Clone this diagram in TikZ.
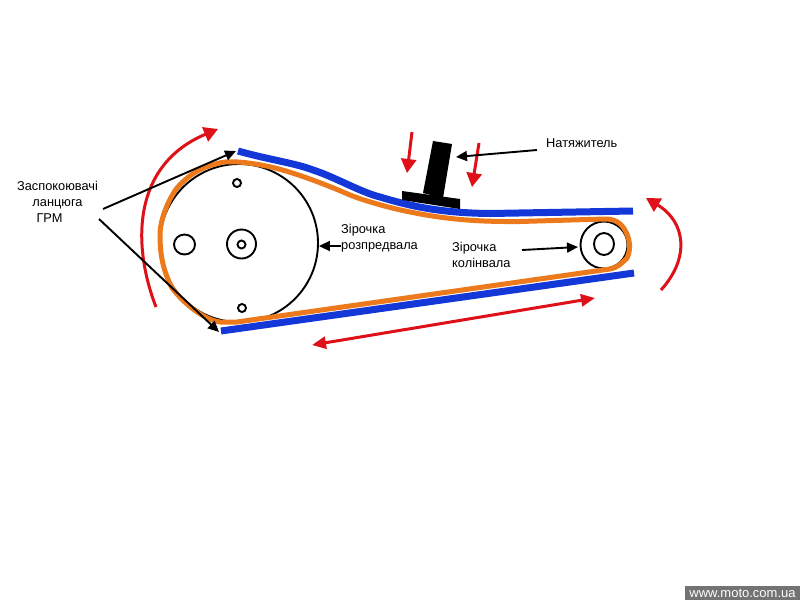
\documentclass[tikz,border=0pt]{standalone}
\usepackage{fontspec}
\setmainfont{Liberation Sans}
\usetikzlibrary{arrows.meta}
\definecolor{beltorange}{HTML}{EC7A1C}
\definecolor{guideblue}{HTML}{1438D8}
\definecolor{arrowred}{HTML}{DE1018}
\tikzset{
  blk/.style={draw=black,line width=1.9pt},
  callout/.style={draw=black,line width=1.9pt,-{Triangle[length=11pt,width=10pt]}},
  redarrow/.style={draw=arrowred,line width=3pt,-{Triangle[length=14pt,width=15pt]}},
  label/.style={font=\fontsize{12.8}{16}\selectfont,text=black,inner sep=0pt,align=left},
  guide/.style={draw=guideblue,line width=7pt},
  belt/.style={draw=beltorange,line width=5pt,line join=round}
}
\begin{document}
\begin{tikzpicture}[x=1pt,y=-1pt]
\useasboundingbox[fill=white] (0,0) rectangle (800,600);
% sprockets
\node[blk,circle,minimum size=158pt,inner sep=0pt] (cam) at (239,243) {};
\node[blk,circle,minimum size=8pt,inner sep=0pt] (h1) at (237,183) {};
\node[blk,circle,minimum size=8pt,inner sep=0pt] (h2) at (242,308) {};
\node[blk,circle,minimum size=29pt,inner sep=0pt] (hubo) at (241.5,244) {};
\node[blk,circle,minimum size=8pt,inner sep=0pt] (hubi) at (241.5,244.5) {};
\draw[blk] (184.5,244.5) ellipse (10.5 and 10);
\node[blk,circle,minimum size=47pt,inner sep=0pt] (crank) at (604,245) {};
\draw[blk] (604,244) ellipse (10 and 11);
% guides
\draw[guide] (238,151) .. controls (270,160) and (295,163) .. (313,170)
  .. controls (335,177) and (360,192) .. (380,197)
  .. controls (410,206) and (440,213) .. (490,213.5) -- (633,211);
\draw[guide] (221,331) -- (634,273);
% belt
\draw[belt] (237,322) -- (610,269) .. controls (617,268) and (622,263) .. (627,258)
  .. controls (631,250) and (630,240) .. (626,232)
  .. controls (621,222) and (614,219) .. (605,219)
  -- (520,221.5) .. controls (470,222) and (440,218) .. (410,212)
  .. controls (390,208) and (365,201) .. (350,195)
  .. controls (325,184) and (295,173) .. (275,168)
  .. controls (255,163) and (235,161) .. (225,162)
  .. controls (205,165) and (190,173) .. (177,188)
  .. controls (168,200) and (160,220) .. (160,235)
  .. controls (160,255) and (163,270) .. (172,288)
  .. controls (185,305) and (205,320) .. (220,322)
  -- cycle;
% tensioner
\fill[black] (433,141) -- (452,144) -- (443,198) -- (423,193) -- cycle;
\fill[black] (402,191) -- (460,199) -- (460,209) -- (402,200) -- cycle;
% red arrows
\coordinate (ra0) at (156,307); \coordinate (ra1) at (218,129);
\draw[redarrow] (ra0) .. controls (132,245) and (132,165) .. (ra1);
\coordinate (rb0) at (412,132); \coordinate (rb1) at (407,173);
\draw[redarrow] (rb0) -- (rb1);
\coordinate (rc0) at (479,143); \coordinate (rc1) at (472,187);
\draw[redarrow] (rc0) -- (rc1);
\coordinate (rd0) at (661,290); \coordinate (rd1) at (646,198);
\draw[redarrow] (rd0) .. controls (690,258) and (686,222) .. (rd1);
\coordinate (re0) at (312,345); \coordinate (re1) at (595,298);
\draw[redarrow,{Triangle[length=14pt,width=12pt]}-{Triangle[length=14pt,width=12pt]}] (re0) -- (re1);
% labels
\node[label,align=center] (zasp) at (57.5,202) {Заспокоювачі\\ланцюга\\[0pt]\hspace*{-16pt}ГРМ};
\node[label,anchor=west] (zcam) at (341,238.5) {Зірочка\\розпредвала};
\node[label,anchor=west] (zcr) at (452,254.5) {Зірочка\\колінвала};
\node[label,anchor=west] (nat) at (546,143) {Натяжитель};
% callouts
\coordinate (c1s) at (103,209); \coordinate (c1e) at (236,151);
\coordinate (c2s) at (99,219); \coordinate (c2e) at (219,332);
\draw[callout] (c1s) -- (c1e);
\draw[callout] (c2s) -- (c2e);
\coordinate (c3s) at (341,246);
\draw[callout] (c3s) -- (cam.east |- c3s);
\coordinate (c4s) at (537,150); \coordinate (c4e) at (456,157);
\draw[callout] (c4s) -- (c4e);
\coordinate (c5s) at (522,250); \coordinate (c5e) at (578,247);
\draw[callout] (c5s) -- (c5e);
% watermark
\fill[black!55] (685,586) rectangle (800,600);
\node[font=\fontsize{13}{13}\selectfont,text=white,inner sep=0pt] (wm) at (742.5,593) {www.moto.com.ua};
\end{tikzpicture}
\end{document}
